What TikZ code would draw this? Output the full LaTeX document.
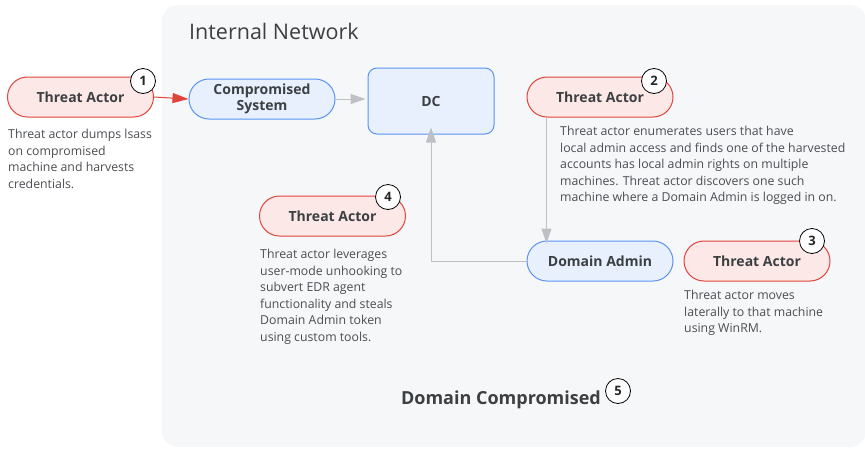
\documentclass[tikz,border=0pt]{standalone}
\usepackage{fontspec}
\setmainfont{Open Sans}
\usetikzlibrary{arrows.meta,calc}
\definecolor{panel}{HTML}{F6F7F9}
\definecolor{redline}{HTML}{E0443A}
\definecolor{redfill}{HTML}{FCE8E6}
\definecolor{blueline}{HTML}{5B93F2}
\definecolor{bluefill}{HTML}{E8F0FE}
\definecolor{conn}{HTML}{BDC1C6}
\definecolor{ink}{HTML}{3C4043}
\definecolor{note}{HTML}{4A4D52}
\tikzset{
  actor/.style={draw=redline, fill=redfill, line width=1pt, rounded corners=20pt,
    minimum width=146pt, minimum height=40pt, inner sep=0pt,
    font=\fontsize{14}{16}\selectfont\bfseries, text=ink},
  asset/.style={draw=blueline, fill=bluefill, line width=1pt, rounded corners=20pt,
    minimum width=146pt, minimum height=40pt, inner sep=0pt, align=center,
    font=\fontsize{14}{16}\selectfont\bfseries, text=ink},
  stepnum/.style={circle, draw=black, fill=white, line width=0.8pt,
    minimum size=25pt, inner sep=0pt, font=\fontsize{13}{13}\selectfont\bfseries, text=black!85},
  notetext/.style={anchor=north west, align=left, inner sep=0pt, text=note,
    font=\fontsize{12.3}{16.5}\selectfont},
  link/.style={draw=conn, line width=1pt},
  tip/.style={-{Triangle[length=15pt,width=10pt]}}
}
\begin{document}
\begin{tikzpicture}[x=1pt,y=-1pt]
\useasboundingbox (0,0) rectangle (865,448);
% panel for the internal network
\fill[panel, rounded corners=16pt] (162,5) rectangle (866,447);
\node[anchor=west, inner sep=0pt, text=ink, font=\fontsize{21.5}{24}\selectfont] (title) at (189,31) {Internal Network};

% main nodes
\node[actor] (ta1) at (80.5,97) {Threat Actor};
\node[asset] (cs) at (262,99) {Compromised\\System};
\node[asset, rounded corners=9pt, minimum width=126pt, minimum height=66pt] (dc) at (431,101) {DC};
\node[actor] (ta2) at (600,97) {Threat Actor};
\node[actor] (ta4) at (332.5,216) {Threat Actor};
\node[asset] (da) at (600,261) {Domain Admin};
\node[actor] (ta3) at (757,261) {Threat Actor};

% connectors
\draw[link, draw=redline, -{Triangle[length=16pt,width=10pt]}, redline] (ta1.east) -- (cs.west);
\draw[link, tip, conn] (cs.east) -- ([xshift=-2pt]dc.west |- cs.east);
\coordinate (ta2foot) at ([xshift=20pt]ta2.south west);
\draw[link, tip, conn] (ta2foot) -- ([yshift=-3pt]ta2foot |- da.north);
\draw[link, tip, conn] (da.west) -| ([yshift=7pt]dc.south);

% step numbers
\node[stepnum] (n1) at (143,81) {1};
\node[stepnum] (n2) at (654,81) {2};
\node[stepnum] (n3) at (812,241) {3};
\node[stepnum] (n4) at (388,197) {4};

% notes
\node[notetext] (t1) at (8,129) {Threat actor dumps lsass\\on compromised\\machine and harvests\\credentials.};
\node[notetext] (t2) at (560,126) {Threat actor enumerates users that have\\local admin access and finds one of the harvested\\accounts has local admin rights on multiple\\machines. Threat actor discovers one such\\machine where a Domain Admin is logged in on.};
\node[notetext] (t4) at (260,249) {Threat actor leverages\\user-mode unhooking to\\subvert EDR agent\\functionality and steals\\Domain Admin token\\using custom tools.};
\node[notetext] (t3) at (684,290) {Threat actor moves\\laterally to that machine\\using WinRM.};

% outcome
\node[inner sep=0pt, text=ink, font=\fontsize{18}{20}\selectfont\bfseries] (dcomp) at (501,400) {Domain Compromised};
\node[stepnum] (n5) at (618,391) {5};
\end{tikzpicture}
\end{document}
